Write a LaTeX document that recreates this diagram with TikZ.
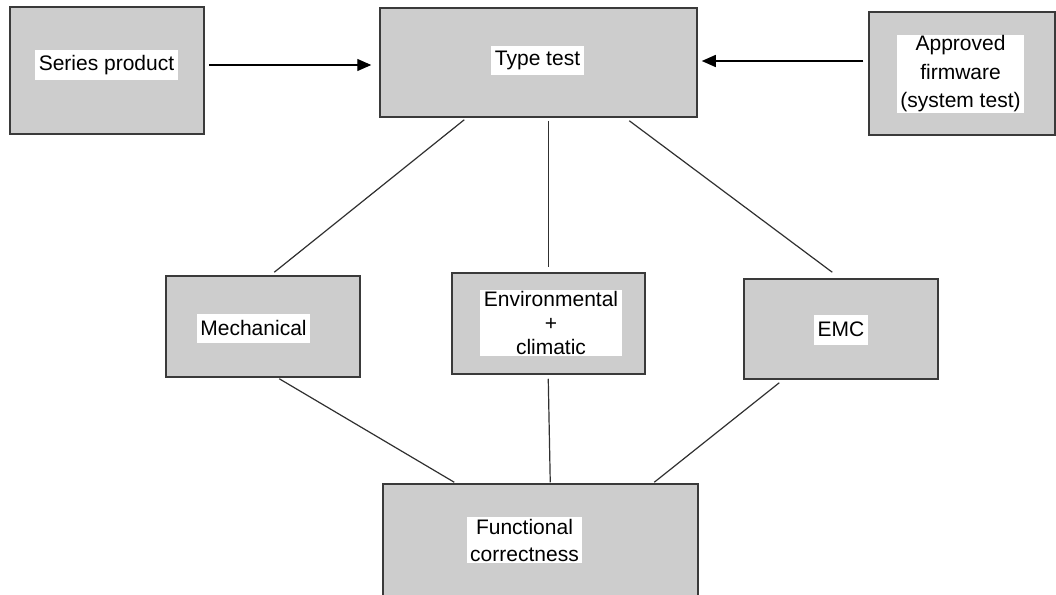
\documentclass[tikz,border=0pt]{standalone}
\usepackage{fontspec}
\setmainfont{Liberation Sans}
\usetikzlibrary{arrows.meta,calc}
\definecolor{boxfill}{HTML}{CDCDCD}
\definecolor{boxline}{HTML}{3A3A3A}
\definecolor{wire}{HTML}{303030}
\tikzset{
  stagebox/.style={draw=boxline, fill=boxfill, line width=1.5pt, inner sep=0pt},
  tag/.style={fill=white, inner xsep=3.5pt, inner ysep=3pt, align=center,
    font=\fontsize{21}{28.5}\selectfont},
  link/.style={draw=wire, line width=1.2pt},
  feed/.style={draw=black, line width=1.3pt, -{Triangle[length=14pt,width=12pt]}},
}
\begin{document}
\begin{tikzpicture}[x=1pt,y=-1pt]
\clip (0,0) rectangle (1056,594);
\fill[white] (0,0) rectangle (1056,594);

% stage boxes
\node[stagebox, minimum width=194pt, minimum height=127pt] (sp)   at (107,70.5) {};
\node[stagebox, minimum width=317pt, minimum height=109pt] (tt)   at (538.5,62.5) {};
\node[stagebox, minimum width=186pt, minimum height=123pt] (fw)   at (962,73.5) {};
\node[stagebox, minimum width=194pt, minimum height=101pt] (mech) at (263,326.5) {};
\node[stagebox, minimum width=193pt, minimum height=101pt] (env)  at (548.5,323.5) {};
\node[stagebox, minimum width=194pt, minimum height=100pt] (emc)  at (841,329) {};
\node[stagebox, minimum width=315pt, minimum height=140pt] (fc)   at (540.5,554) {};

% white caption labels
\node[tag, minimum height=30pt] (spl)   at (106.5,65) {Series product};
\node[tag, minimum height=29pt] (ttl)   at (537.5,60.5) {Type test};
\node[tag, inner ysep=1pt] (fwl) at (960.5,74) {Approved\\firmware\\(system test)};
\node[tag, minimum height=29pt] (mechl) at (253.5,328) {Mechanical};
\node[tag, inner ysep=1.5pt, font=\fontsize{21}{24}\selectfont] (envl) at (551,323) {Environmental\\+\\climatic};
\node[tag, minimum height=30pt] (emcl)  at (841,329.5) {EMC};
\node[tag, inner ysep=1.5pt, font=\fontsize{21}{27}\selectfont] (fcl) at (524.5,540) {Functional\\correctness};

% inputs into the type test
\draw[feed] ($(sp.east)+(4,-5.5)$) -- ($(tt.west)+(-8,2.5)$);
\draw[feed] ($(fw.west)+(-5,-12.5)$) -- ($(tt.east)+(4,-1.5)$);

% type test branches
\draw[link] ($(tt.south west)+(85,2)$) -- ($(mech.north west)+(109,-3)$);
\draw[link] ($(tt.south west)+(169,3)$) -- ($(env.north west)+(97,-5)$);
\draw[link] ($(tt.south west)+(250,3)$) -- ($(emc.north west)+(89,-6)$);

% branches into functional correctness
\draw[link] ($(mech.south west)+(114,1)$) -- ($(fc.north west)+(72,-1)$);
\draw[link] ($(env.south west)+(97,4)$) -- ($(fc.north west)+(168,-1)$);
\draw[link] ($(emc.south west)+(36,3)$) -- ($(fc.north west)+(272,-1)$);
\end{tikzpicture}
\end{document}
